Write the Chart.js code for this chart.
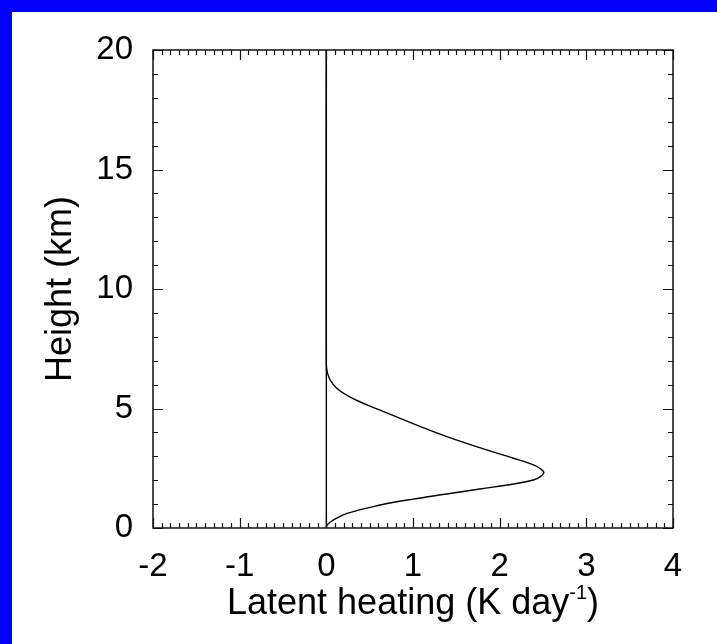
<!DOCTYPE html>
<html><head><meta charset="utf-8">
<script src="https://cdn.jsdelivr.net/npm/chart.js@4"></script>
<style>
html,body{margin:0;padding:0;background:#fff;}
#wrap{position:absolute;left:0;top:0;width:717px;height:644px;box-sizing:border-box;border-top:12px solid #0000ff;border-left:12px solid #0000ff;background:#fff;}
#c{display:block;}
</style></head><body>
<div id="wrap"><canvas id="c" width="705" height="632"></canvas></div>
<script>
// Heating profile: height (km) and latent heating (K/day)
const heights = [0, 0.13, 0.33, 0.61, 0.96, 1.21, 1.42, 1.63, 1.84, 2.01, 2.15, 2.33, 2.48, 2.64, 2.92, 3.36, 3.82, 4.25, 4.59, 4.87, 5.15, 5.49, 5.85, 6.19, 6.5, 6.85, 20];
const heating = [0, 0.01, 0.08, 0.24, 0.62, 1.0, 1.39, 1.77, 2.16, 2.39, 2.47, 2.51, 2.47, 2.39, 2.16, 1.77, 1.39, 1.08, 0.85, 0.66, 0.47, 0.27, 0.12, 0.045, 0.012, 0, 0];
// Zero reference line
const zeroLineHeights = [0, 20];
const zeroLineValues = [0, 0];
// Axes
const xTickValues = [-2, -1, 0, 1, 2, 3, 4];
const yTickValues = [0, 5, 10, 15, 20];
const xMinorPerMajor = 10;
const yMinorPerMajor = 5;
const xTitleMain = 'Latent heating (K day';
const xTitleSup = '-1';
const xTitleEnd = ')';
const yTitle = 'Height (km)';

const FONT = 'Liberation Sans, Arial, Helvetica, sans-serif';
const TICK_SIZE = 33;
const TITLE_SIZE = 36;

const profilePts = heights.map((h, i) => ({x: heating[i], y: h}));
const zeroPts = zeroLineHeights.map((h, i) => ({x: zeroLineValues[i], y: h}));

const PLOT = {left: 141, top: 38, right: 661, bottom: 516};

const frame = {
  id: 'frame',
  afterDatasetsDraw(chart) {
    const {ctx, chartArea: a, scales: {x, y}} = chart;
    ctx.save();
    ctx.strokeStyle = '#111';
    ctx.lineWidth = 1.5;
    ctx.strokeRect(a.left, a.top, a.right - a.left, a.bottom - a.top);
    ctx.lineWidth = 1.2;
    ctx.beginPath();
    const xMin = xTickValues[0], xStep = xTickValues[1] - xTickValues[0];
    const nx = (xTickValues.length - 1) * xMinorPerMajor;
    for (let i = 0; i <= nx; i++) {
      const v = xMin + i * xStep / xMinorPerMajor;
      const px = Math.round(x.getPixelForValue(v)) + 0.5;
      const len = (i % xMinorPerMajor === 0) ? 10 : 5;
      ctx.moveTo(px, a.bottom); ctx.lineTo(px, a.bottom - len);
      ctx.moveTo(px, a.top); ctx.lineTo(px, a.top + len);
    }
    const yMin = yTickValues[0], yStep = yTickValues[1] - yTickValues[0];
    const ny = (yTickValues.length - 1) * yMinorPerMajor;
    for (let i = 0; i <= ny; i++) {
      const v = yMin + i * yStep / yMinorPerMajor;
      const py = Math.round(y.getPixelForValue(v)) + 0.5;
      const len = (i % yMinorPerMajor === 0) ? 10 : 5;
      ctx.moveTo(a.left, py); ctx.lineTo(a.left + len, py);
      ctx.moveTo(a.right, py); ctx.lineTo(a.right - len, py);
    }
    ctx.stroke();
    // x axis title with superscript
    ctx.fillStyle = '#000';
    ctx.textBaseline = 'alphabetic';
    ctx.font = TITLE_SIZE + 'px ' + FONT;
    const w1 = ctx.measureText(xTitleMain).width;
    const w3 = ctx.measureText(xTitleEnd).width;
    ctx.font = Math.round(TITLE_SIZE * 0.55) + 'px ' + FONT;
    const w2 = ctx.measureText(xTitleSup).width;
    const total = w1 + w2 + w3;
    const cx = (a.left + a.right) / 2;
    let tx = cx - total / 2;
    const baseY = a.bottom + 86;
    ctx.font = TITLE_SIZE + 'px ' + FONT;
    ctx.textAlign = 'left';
    ctx.fillText(xTitleMain, tx, baseY);
    tx += w1;
    ctx.font = Math.round(TITLE_SIZE * 0.55) + 'px ' + FONT;
    ctx.fillText(xTitleSup, tx, baseY - TITLE_SIZE * 0.42);
    tx += w2;
    ctx.font = TITLE_SIZE + 'px ' + FONT;
    ctx.fillText(xTitleEnd, tx, baseY);
    ctx.restore();
  }
};

new Chart(document.getElementById('c'), {
  type: 'scatter',
  data: {
    datasets: [
      {label: 'Zero', data: zeroPts, showLine: true, borderColor: '#000', borderWidth: 1.4, pointRadius: 0, fill: false, tension: 0},
      {label: 'Latent heating', data: profilePts, showLine: true, borderColor: '#000', borderWidth: 1.4, pointRadius: 0, fill: false, tension: 0.4}
    ]
  },
  options: {
    responsive: false,
    animation: false,
    events: [],
    layout: {padding: {left: 0, top: PLOT.top, right: 705 - PLOT.right, bottom: 0}},
    plugins: {legend: {display: false}, tooltip: {enabled: false}, title: {display: false}},
    scales: {
      x: {
        type: 'linear', position: 'bottom', min: -2, max: 4,
        afterBuildTicks: (s) => { s.ticks = xTickValues.map(v => ({value: v})); },
        afterFit: (s) => { s.height = 632 - PLOT.bottom; },
        ticks: {color: '#000', padding: 11, font: {family: FONT, size: TICK_SIZE}, maxRotation: 0, autoSkip: false},
        grid: {display: false},
        border: {display: false}
      },
      y: {
        type: 'linear', position: 'left', min: 0, max: 20,
        afterBuildTicks: (s) => { s.ticks = yTickValues.map(v => ({value: v})); },
        afterFit: (s) => { s.width = PLOT.left; },
        ticks: {color: '#000', padding: 12, font: {family: FONT, size: TICK_SIZE}, autoSkip: false},
        grid: {display: false},
        border: {display: false},
        title: {display: true, text: yTitle, color: '#000', font: {family: FONT, size: TITLE_SIZE}, padding: {top: 27, bottom: 0}}
      }
    }
  },
  plugins: [frame]
});
</script>
</body></html>
